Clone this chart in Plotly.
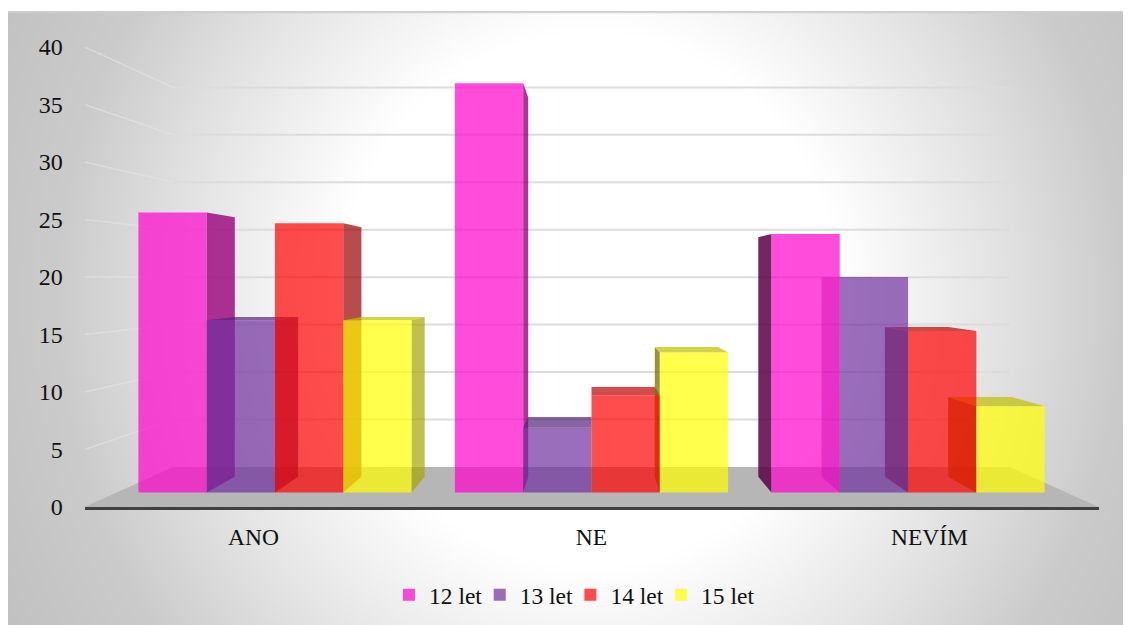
import base64
import struct
import zlib

import numpy as np
import plotly.graph_objects as go

# ---- data ----
categories = ["ANO", "NE", "NEVÍM"]
series_names = ["12 let", "13 let", "14 let", "15 let"]
values_12 = [26, 38, 24]
values_13 = [16, 6, 20]
values_14 = [25, 9, 15]
values_15 = [16, 13, 8]
y_ticks = [0, 5, 10, 15, 20, 25, 30, 35, 40]
series_values = [values_12, values_13, values_14, values_15]
series_rgb = [(255, 0, 204), (112, 48, 160), (255, 0, 0), (255, 255, 0)]

# shading of the side faces: (brightness factor, alpha)
right_shade = [(0.6, 0.8), (0.6, 0.7), (0.6, 0.7), (0.65, 0.7)]
left_shade = [(0.35, 0.85), (0.6, 0.4), (0.5, 0.7), (0.45, 0.75)]
top_shade = (0.75, 0.7)

# ---- perspective of the 3-D look (fractions of the axis plane) ----
W, H = 1131, 625
EYE_X, EYE_Y = 1.0, 19.91   # vanishing point in axis units
S_FRONT, S_BACK, S_WALL = 0.9365, 0.868, 0.825
BAR_GAP = 0.137
X_RANGE, Y_RANGE = [-0.5, 2.5], [0, 40]
DOM_X = [84.5 / W, 1098.5 / W]
DOM_Y = [1 - 507 / H, 1 - 47 / H]
LEGEND_LEFT, LEGEND_STEP = 389, 90.7   # px, one legend box per series


def proj(x, v, s):
    """x in category units, v in value units, s depth scale -> primary axis coords."""
    return EYE_X + (x - EYE_X) * s, EYE_Y + (v - EYE_Y) * s


def rgba(rgb, factor, alpha):
    return "rgba(%d,%d,%d,%.2f)" % (rgb[0] * factor, rgb[1] * factor, rgb[2] * factor, alpha)


def background_png():
    w, h = 558, 307
    xs = (np.arange(w) + 0.5) / w * 1115 + 8
    ys = (np.arange(h) + 0.5) / h * 614 + 11
    xx, yy = np.meshgrid(xs, ys)
    t = np.sqrt(((xx - 590) / 560) ** 2 + ((yy - 300) / 600) ** 2)
    g = np.interp(t, [0.45, 0.75, 0.95, 1.2], [255, 225, 203, 192]).astype(np.uint8)
    g[0, :] = 205
    raw = b"".join(b"\x00" + row.tobytes() for row in g)

    def chunk(tag, data):
        body = tag + data
        return struct.pack(">I", len(data)) + body + struct.pack(">I", zlib.crc32(body))

    png = (b"\x89PNG\r\n\x1a\n"
           + chunk(b"IHDR", struct.pack(">IIBBBBB", w, h, 8, 0, 0, 0, 0))
           + chunk(b"IDAT", zlib.compress(raw, 9))
           + chunk(b"IEND", b""))
    return "data:image/png;base64," + base64.b64encode(png).decode()


fig = go.Figure()


def poly(points, color):
    fig.add_trace(go.Scatter(
        x=[p[0] for p in points] + [points[0][0]],
        y=[p[1] for p in points] + [points[0][1]],
        mode="lines", line=dict(width=0), fill="toself", fillcolor=color,
        hoverinfo="skip", showlegend=False))


# floor
poly([proj(X_RANGE[0], 0, 1), proj(X_RANGE[1], 0, 1),
      proj(X_RANGE[1], 0, S_WALL), proj(X_RANGE[0], 0, S_WALL)], "#b6b6b6")

# gridlines: side-wall part and back-wall part
for v in y_ticks[1:]:
    a = proj(X_RANGE[0], v, 1)
    b = proj(X_RANGE[0], v, S_WALL)
    c = proj(X_RANGE[1], v, S_WALL)
    fig.add_trace(go.Scatter(x=[a[0], b[0]], y=[a[1], b[1]], mode="lines",
                             line=dict(color="rgba(228,228,228,0.6)", width=1.5),
                             hoverinfo="skip", showlegend=False))
    fig.add_trace(go.Scatter(x=[b[0], c[0]], y=[b[1], c[1]], mode="lines",
                             line=dict(color="#dcdcdc", width=2),
                             hoverinfo="skip", showlegend=False))

# bar sides and tops (behind all front faces)
bar_w = (1 - BAR_GAP) / 4
for k, (vals, rgb) in enumerate(zip(series_values, series_rgb)):
    for i, v in enumerate(vals):
        xl = i + (k - 2) * bar_w
        xr = xl + bar_w
        if xr <= EYE_X + 0.01:
            poly([proj(xr, 0, S_FRONT), proj(xr, v, S_FRONT),
                  proj(xr, v, S_BACK), proj(xr, 0, S_BACK)], rgba(rgb, *right_shade[k]))
        elif xl >= EYE_X - 0.01:
            poly([proj(xl, 0, S_FRONT), proj(xl, v, S_FRONT),
                  proj(xl, v, S_BACK), proj(xl, 0, S_BACK)], rgba(rgb, *left_shade[k]))
        if v < EYE_Y:
            poly([proj(xl, v, S_FRONT), proj(xr, v, S_FRONT),
                  proj(xr, v, S_BACK), proj(xl, v, S_BACK)], rgba(rgb, *top_shade))

font = dict(family="Liberation Serif", color="#111111")
legend_layout = {}

# front faces: real grouped bars on an overlaying axis pair scaled to the front plane
for k, (name, vals, rgb) in enumerate(zip(series_names, series_values, series_rgb)):
    key = "legend" if k == 0 else "legend%d" % (k + 1)
    fig.add_trace(go.Bar(x=categories, y=vals, name=name, xaxis="x2", yaxis="y2", legend=key,
                         marker=dict(color=rgba(rgb, 1, 0.7), line=dict(width=0))))
    legend_layout[key] = dict(x=(LEGEND_LEFT + k * LEGEND_STEP) / W, xanchor="left",
                              y=1 - 595 / H, yanchor="middle",
                              font=dict(size=23.5, **font), bgcolor="rgba(0,0,0,0)")

fig.update_layout(
    width=W, height=H, margin=dict(l=0, r=0, t=0, b=0, autoexpand=False), autosize=False,
    paper_bgcolor="white", plot_bgcolor="rgba(0,0,0,0)",
    barmode="group", bargap=BAR_GAP, bargroupgap=0,
    images=[dict(source=background_png(), xref="paper", yref="paper",
                 x=8 / W, y=1 - 11 / H, sizex=1115 / W, sizey=614 / H,
                 xanchor="left", yanchor="top", sizing="stretch", layer="below")],
    xaxis=dict(domain=DOM_X, range=X_RANGE, tickvals=[0, 1, 2], ticktext=categories,
               showgrid=False, zeroline=False, showline=True, linecolor="#404040", linewidth=3,
               ticks="outside", ticklen=7, tickcolor="rgba(0,0,0,0)",
               tickfont=dict(size=23.5, **font), fixedrange=True),
    yaxis=dict(domain=DOM_Y, range=Y_RANGE, tickvals=y_ticks,
               showgrid=False, zeroline=False, showline=False,
               ticks="outside", ticklen=16, tickcolor="rgba(0,0,0,0)",
               tickfont=dict(size=24, **font), fixedrange=True),
    xaxis2=dict(overlaying="x", visible=False, type="category", categoryarray=categories,
                range=[(r - EYE_X) / S_FRONT + EYE_X for r in X_RANGE], fixedrange=True),
    yaxis2=dict(overlaying="y", visible=False,
                range=[(r - EYE_Y) / S_FRONT + EYE_Y for r in Y_RANGE], fixedrange=True),
    **legend_layout,
)

fig.write_html("out.html", config=dict(displayModeBar=False),
               post_script="document.body.style.margin='0';")
